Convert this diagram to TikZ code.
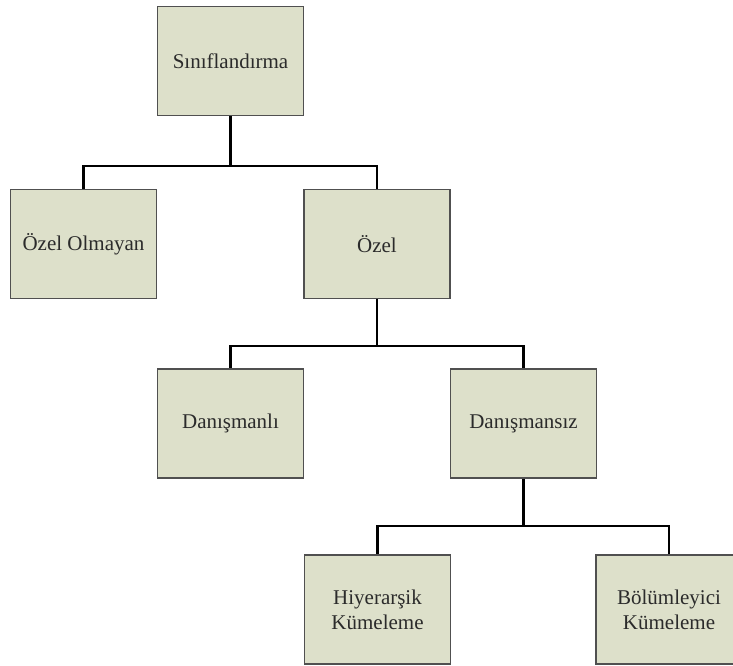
\documentclass[tikz,border=0pt]{standalone}
\usepackage{fontspec}
\setmainfont{Liberation Serif}
\begin{document}
\begin{tikzpicture}[x=1pt,y=-1pt,
  box/.style={draw=boxline,fill=boxfill,line width=1.6pt,rectangle,
    minimum width=146pt,minimum height=109pt,inner sep=2pt,align=center,
    text=labeltext,font=\fontsize{21}{25}\selectfont},
  link/.style={draw=black,line width=2.2pt,line join=miter}]
\definecolor{boxfill}{HTML}{DDE0CA}
\definecolor{boxline}{HTML}{505050}
\definecolor{labeltext}{HTML}{2B2B2B}
\useasboundingbox (0,0) rectangle (733,666);
\clip (0,0) rectangle (733,666);
% tree nodes
\node[box] (root) at (230.5,61) {Sınıflandırma};
\node[box] (nonspec) at (83.5,244) {Özel Olmayan};
\node[box] (spec) at (377,244) {Özel};
\node[box] (sup) at (230.5,423.5) {Danışmanlı};
\node[box] (unsup) at (523.5,423.5) {Danışmansız};
\node[box] (hier) at (377.5,609.5) {Hiyerarşik\\Kümeleme};
\node[box] (part) at (669,609.5) {Bölümleyici\\Kümeleme};
% branch junctions
\coordinate (j1) at (230.5,166);
\coordinate (j2) at (377,346);
\coordinate (j3) at (523.5,526);
% connectors
\draw[link] (root.south) -- (j1);
\draw[link] (j1) -| (nonspec.north);
\draw[link] (j1) -| (spec.north);
\draw[link] (spec.south) -- (j2);
\draw[link] (j2) -| (sup.north);
\draw[link] (j2) -| (unsup.north);
\draw[link] (unsup.south) -- (j3);
\draw[link] (j3) -| (hier.north);
\draw[link] (j3) -| (part.north);
\end{tikzpicture}
\end{document}
